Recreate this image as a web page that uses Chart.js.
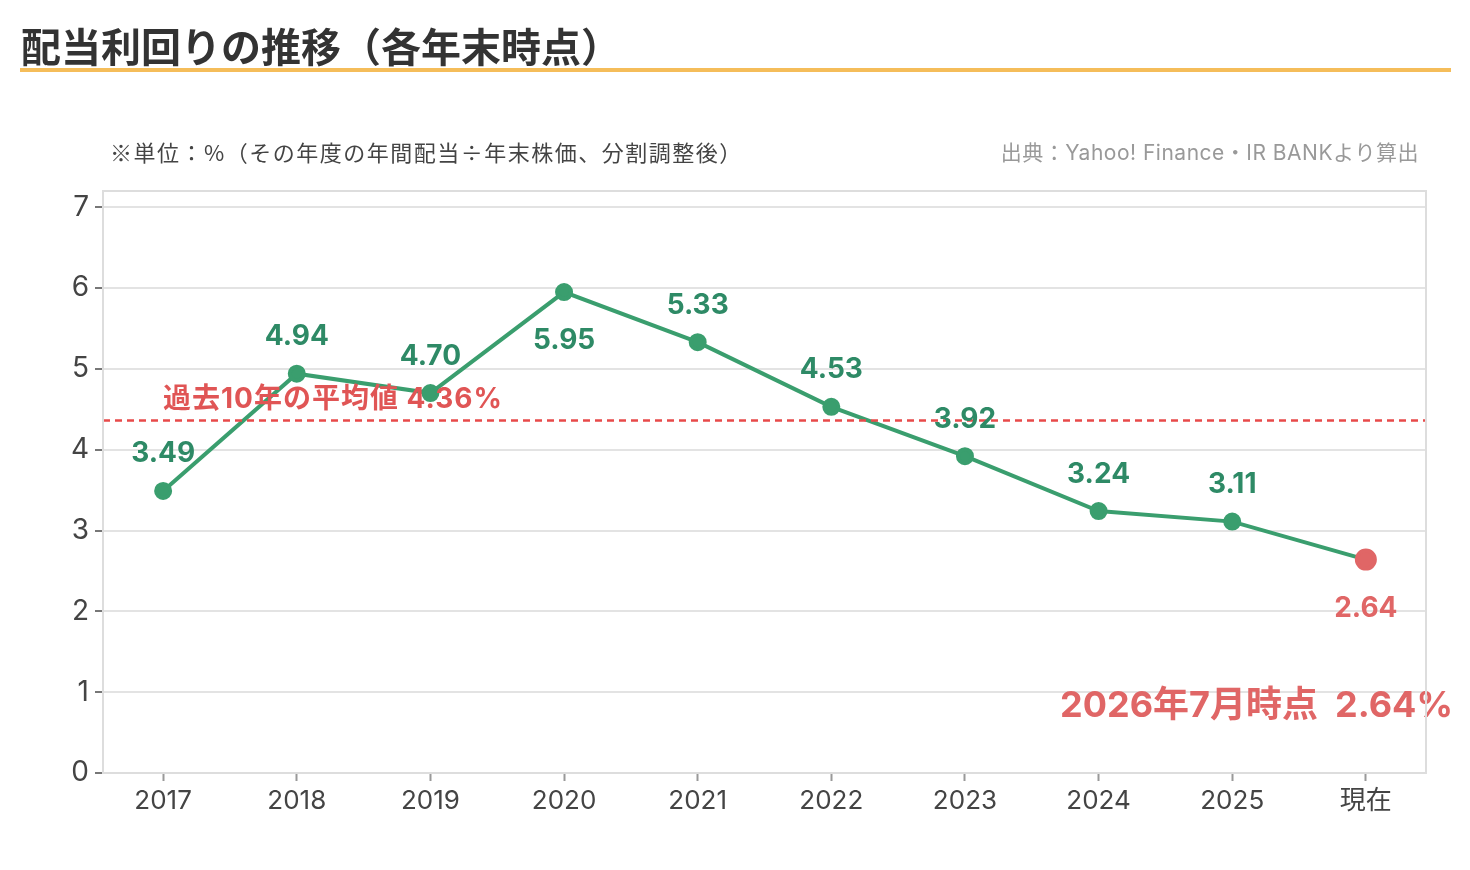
<!DOCTYPE html>
<html>
<head>
<meta charset="utf-8">
<script src="https://cdn.jsdelivr.net/npm/chart.js@4"></script>
<style>
  html, body { margin: 0; padding: 0; background: #fff; }
  #wrap { position: relative; width: 1470px; height: 870px; }
</style>
</head>
<body>
<div id="wrap"><canvas id="yieldChart" width="1470" height="870"></canvas></div>
<script>
// data
const years = ['2017', '2018', '2019', '2020', '2021', '2022', '2023', '2024', '2025', '現在'];
const yields = [3.49, 4.94, 4.70, 5.95, 5.33, 4.53, 3.92, 3.24, 3.11, 2.64];
const avgYield = 4.36;
const yTicks = [0, 1, 2, 3, 4, 5, 6, 7];

const GREEN = '#3a9e6e';
const GREEN_TEXT = '#2e8a66';
const RED = '#e06666';
const FONT = 'Inter, "Noto Sans CJK JP", sans-serif';
const FONT_JP = '"Noto Sans CJK JP", sans-serif';

const points = yields.map((v, i) => ({x: i, y: v}));
const lastIdx = yields.length - 1;

// titles, notes, avg line and value labels
const decorations = {
  id: 'decorations',
  beforeDraw(chart) {
    const c = chart.ctx;
    c.save();
    c.fillStyle = '#333';
    c.font = 'bold 40px ' + FONT_JP;
    c.textBaseline = 'alphabetic';
    c.fillText('配当利回りの推移（各年末時点）', 21, 62);
    c.fillStyle = '#f5bd5a';
    c.fillRect(20, 68, 1431, 4);

    c.font = '22px ' + FONT_JP;
    c.letterSpacing = '1.5px';
    c.fillStyle = '#444';
    c.textBaseline = 'middle';
    c.fillText('※単位：%（その年度の年間配当÷年末株価、分割調整後）', 110, 153);
    c.fillStyle = '#999';
    c.font = '21px ' + FONT;
    c.letterSpacing = '0.5px';
    c.textAlign = 'right';
    c.fillText('出典：Yahoo! Finance・IR BANKより算出', 1419, 154);
    c.restore();
  },
  afterDatasetsDraw(chart) {
    const c = chart.ctx;
    const xs = chart.scales.x, ys = chart.scales.y;
    const area = chart.chartArea;
    c.save();
    // average line
    const ya = ys.getPixelForValue(avgYield);
    c.strokeStyle = '#e84a4a';
    c.lineWidth = 2.5;
    c.setLineDash([7, 5]);
    c.beginPath();
    c.moveTo(area.left, ya);
    c.lineTo(area.right, ya);
    c.stroke();
    c.setLineDash([]);
    c.fillStyle = '#e05555';
    c.font = 'bold 28px ' + FONT;
    c.letterSpacing = '1px';
    c.textAlign = 'left';
    c.textBaseline = 'middle';
    c.fillText('過去10年の平均値 ' + avgYield.toFixed(2) + '%', 163, ys.getPixelForValue(avgYield) - 21);
    c.letterSpacing = '0px';

    // value labels
    const below = [3, lastIdx];
    c.font = 'bold 28px ' + FONT;
    c.textAlign = 'center';
    yields.forEach((v, i) => {
      const px = xs.getPixelForValue(i);
      const py = ys.getPixelForValue(v);
      c.fillStyle = i === lastIdx ? RED : GREEN_TEXT;
      const dy = below.includes(i) ? 49 : -37;
      c.fillText(v.toFixed(2), px, py + dy);
    });

    // current note
    c.fillStyle = RED;
    c.font = 'bold 36px ' + FONT;
    c.textAlign = 'right';
    c.fillText('2026年7月時点  ' + yields[lastIdx].toFixed(2) + '%', 1453, ys.getPixelForValue(0.83));

    // plot border
    c.strokeStyle = '#dddddd';
    c.lineWidth = 2;
    c.strokeRect(area.left, area.top, area.right - area.left, area.bottom - area.top);
    c.restore();
  }
};

new Chart(document.getElementById('yieldChart').getContext('2d'), {
  type: 'scatter',
  data: {
    datasets: [{
      data: points,
      showLine: true,
      borderColor: GREEN,
      borderWidth: 4,
      pointRadius: yields.map((v, i) => i === lastIdx ? 9 : 7),
      pointBackgroundColor: yields.map((v, i) => i === lastIdx ? RED : GREEN),
      pointBorderColor: yields.map((v, i) => i === lastIdx ? RED : GREEN),
      tension: 0
    }]
  },
  options: {
    responsive: false,
    animation: false,
    layout: { padding: { left: 50, top: 191, right: 44, bottom: 40 } },
    plugins: { legend: { display: false }, tooltip: { enabled: false } },
    scales: {
      x: {
        type: 'linear',
        min: -0.45,
        max: lastIdx + 0.45,
        afterBuildTicks(scale) { scale.ticks = years.map((y, i) => ({value: i})); },
        afterFit(scale) { scale.height = 57; },
        ticks: {
          callback: (v) => years[v],
          color: '#444',
          font: { family: FONT, size: 26 },
          padding: 5
        },
        grid: { display: true, drawOnChartArea: false, color: '#999', tickLength: 8, tickWidth: 2 },
        border: { color: '#ddd', width: 2 }
      },
      y: {
        min: 0,
        max: 7.2,
        afterBuildTicks(scale) { scale.ticks = yTicks.map(v => ({value: v})); },
        afterFit(scale) { scale.width = 53; },
        ticks: {
          color: '#444',
          font: { family: FONT, size: 28 },
          padding: 6
        },
        grid: { color: '#e3e3e3', lineWidth: 2, tickLength: 8, tickColor: '#777', tickWidth: 2 },
        border: { color: '#ddd', width: 2 }
      }
    }
  },
  plugins: [decorations]
});
</script>
</body>
</html>
